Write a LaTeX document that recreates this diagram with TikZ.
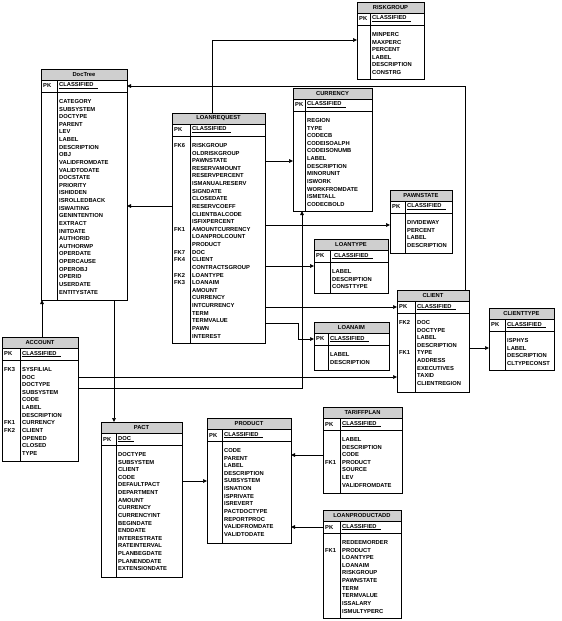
\documentclass[tikz,border=0pt]{standalone}
\usepackage{fontspec}
\setmainfont{Liberation Sans}
\usetikzlibrary{arrows.meta,positioning,calc}

\begin{document}
\begin{tikzpicture}[x=1pt, y=-1pt,
  head/.style={draw, line width=0.5pt, fill=gray!38, anchor=north west, outer sep=0pt, inner sep=0pt, minimum height=11pt, font=\fontsize{5.8}{7}\selectfont\bfseries},
  pkrow/.style={draw, line width=0.5pt, anchor=north west, outer sep=0pt, inner sep=0pt, minimum height=12pt},
  body/.style={draw, line width=0.5pt, anchor=north west, outer sep=0pt, inner sep=0pt},
  txt/.style={anchor=west, inner sep=0pt, font=\fontsize{5.8}{7}\selectfont\bfseries},
  sep/.style={line width=0.5pt},
  fk/.style={-{Triangle[length=4pt,width=3.6pt]}, line width=0.5pt}
]
\useasboundingbox (0,0) rectangle (562,621);

% RISKGROUP
\node[head, minimum width=67pt] (rg) at (357,2) {RISKGROUP};
\node[pkrow, minimum width=67pt] (rgpk) at (rg.south west) {};
\node[body, minimum width=67pt, minimum height=54pt] (rgb) at (rgpk.south west) {};
\draw[sep] ([xshift=13]rgpk.north west) -- ([xshift=13]rgb.south west);
\node[txt] (rgpkl) at ([xshift=2]rgpk.west) {PK};
\node[txt] (rgpkn) at ([xshift=15]rgpk.west) {\underline{CLASSIFIED\hspace{4pt}}};
\foreach \a [count=\i from 0] in {MINPERC,MAXPERC,PERCENT,LABEL,DESCRIPTION,CONSTRG}
  \node[txt] (rga\i) at ([xshift=15, yshift=-9.5-7.62*\i]rgb.north west) {\a};

% DocTree
\node[head, minimum width=86pt] (doc) at (41,69) {DocTree};
\node[pkrow, minimum width=86pt] (docpk) at (doc.south west) {};
\node[body, minimum width=86pt, minimum height=208pt] (docb) at (docpk.south west) {};
\draw[sep] ([xshift=16]docpk.north west) -- ([xshift=16]docb.south west);
\node[txt] (docpkl) at ([xshift=2]docpk.west) {PK};
\node[txt] (docpkn) at ([xshift=18]docpk.west) {\underline{CLASSIFIED\hspace{4pt}}};
\foreach \a [count=\i from 0] in {CATEGORY,SUBSYSTEM,DOCTYPE,PARENT,LEV,LABEL,DESCRIPTION,OBJ,VALIDFROMDATE,VALIDTODATE,DOCSTATE,PRIORITY,ISHIDDEN,ISROLLEDBACK,ISWAITING,GENINTENTION,EXTRACT,INITDATE,AUTHORID,AUTHORWP,OPERDATE,OPERCAUSE,OPEROBJ,OPERID,USERDATE,ENTITYSTATE}
  \node[txt] (doca\i) at ([xshift=18, yshift=-9.5-7.62*\i]docb.north west) {\a};

% LOANREQUEST
\node[head, minimum width=93pt] (lreq) at (172,113) {LOANREQUEST};
\node[pkrow, minimum width=93pt] (lreqpk) at (lreq.south west) {};
\node[body, minimum width=93pt, minimum height=207pt] (lreqb) at (lreqpk.south west) {};
\draw[sep] ([xshift=18]lreqpk.north west) -- ([xshift=18]lreqb.south west);
\node[txt] (lreqpkl) at ([xshift=2]lreqpk.west) {PK};
\node[txt] (lreqpkn) at ([xshift=20]lreqpk.west) {\underline{CLASSIFIED\hspace{4pt}}};
\foreach \a [count=\i from 0] in {RISKGROUP,OLDRISKGROUP,PAWNSTATE,RESERVAMOUNT,RESERVPERCENT,ISMANUALRESERV,SIGNDATE,CLOSEDATE,RESERVCOEFF,CLIENTBALCODE,ISFIXPERCENT,AMOUNTCURRENCY,LOANPROLCOUNT,PRODUCT,DOC,CLIENT,CONTRACTSGROUP,LOANTYPE,LOANAIM,AMOUNT,CURRENCY,INTCURRENCY,TERM,TERMVALUE,PAWN,INTEREST}
  \node[txt] (lreqa\i) at ([xshift=20, yshift=-9.5-7.62*\i]lreqb.north west) {\a};
\foreach \k/\i in {FK6/0,FK1/11,FK7/14,FK4/15,FK2/17,FK3/18}
  \node[txt] (lreqk\i) at ([xshift=2]lreqb.west |- lreqa\i.west) {\k};

% CURRENCY
\node[head, minimum width=79pt] (cur) at (293,88) {CURRENCY};
\node[pkrow, minimum width=79pt] (curpk) at (cur.south west) {};
\node[body, minimum width=79pt, minimum height=100pt] (curb) at (curpk.south west) {};
\draw[sep] ([xshift=12]curpk.north west) -- ([xshift=12]curb.south west);
\node[txt] (curpkl) at ([xshift=2]curpk.west) {PK};
\node[txt] (curpkn) at ([xshift=14]curpk.west) {\underline{CLASSIFIED\hspace{4pt}}};
\foreach \a [count=\i from 0] in {REGION,TYPE,CODECB,CODEISOALPH,CODEISONUMB,LABEL,DESCRIPTION,MINORUNIT,ISWORK,WORKFROMDATE,ISMETALL,CODECBOLD}
  \node[txt] (cura\i) at ([xshift=14, yshift=-9.5-7.62*\i]curb.north west) {\a};

% PAWNSTATE
\node[head, minimum width=62pt] (pawn) at (390,190) {PAWNSTATE};
\node[pkrow, minimum width=62pt] (pawnpk) at (pawn.south west) {};
\node[body, minimum width=62pt, minimum height=40pt] (pawnb) at (pawnpk.south west) {};
\draw[sep] ([xshift=15]pawnpk.north west) -- ([xshift=15]pawnb.south west);
\node[txt] (pawnpkl) at ([xshift=2]pawnpk.west) {PK};
\node[txt] (pawnpkn) at ([xshift=17]pawnpk.west) {\underline{CLASSIFIED\hspace{4pt}}};
\foreach \a [count=\i from 0] in {DIVIDEWAY,PERCENT,LABEL,DESCRIPTION}
  \node[txt] (pawna\i) at ([xshift=17, yshift=-9.5-7.62*\i]pawnb.north west) {\a};

% LOANTYPE
\node[head, minimum width=74pt] (ltype) at (314,239) {LOANTYPE};
\node[pkrow, minimum width=74pt] (ltypepk) at (ltype.south west) {};
\node[body, minimum width=74pt, minimum height=31pt] (ltypeb) at (ltypepk.south west) {};
\draw[sep] ([xshift=16]ltypepk.north west) -- ([xshift=16]ltypeb.south west);
\node[txt] (ltypepkl) at ([xshift=2]ltypepk.west) {PK};
\node[txt] (ltypepkn) at ([xshift=18]ltypepk.west) {\underline{\hspace{2pt}CLASSIFIED\hspace{4pt}}};
\foreach \a [count=\i from 0] in {LABEL,DESCRIPTION,CONSTTYPE}
  \node[txt] (ltypea\i) at ([xshift=18, yshift=-9.5-7.62*\i]ltypeb.north west) {\a};

% LOANAIM
\node[head, minimum width=75pt] (laim) at (314,322) {LOANAIM};
\node[pkrow, minimum width=75pt] (laimpk) at (laim.south west) {};
\node[body, minimum width=75pt, minimum height=25pt] (laimb) at (laimpk.south west) {};
\draw[sep] ([xshift=14]laimpk.north west) -- ([xshift=14]laimb.south west);
\node[txt] (laimpkl) at ([xshift=2]laimpk.west) {PK};
\node[txt] (laimpkn) at ([xshift=16]laimpk.west) {\underline{CLASSIFIED\hspace{4pt}}};
\foreach \a [count=\i from 0] in {LABEL,DESCRIPTION}
  \node[txt] (laima\i) at ([xshift=16, yshift=-9.5-7.62*\i]laimb.north west) {\a};

% CLIENT
\node[head, minimum width=72pt] (cli) at (397,290) {CLIENT};
\node[pkrow, minimum width=72pt] (clipk) at (cli.south west) {};
\node[body, minimum width=72pt, minimum height=79pt] (clib) at (clipk.south west) {};
\draw[sep] ([xshift=18]clipk.north west) -- ([xshift=18]clib.south west);
\node[txt] (clipkl) at ([xshift=2]clipk.west) {PK};
\node[txt] (clipkn) at ([xshift=20]clipk.west) {\underline{CLASSIFIED\hspace{4pt}}};
\foreach \a [count=\i from 0] in {DOC,DOCTYPE,LABEL,DESCRIPTION,TYPE,ADDRESS,EXECUTIVES,TAXID,CLIENTREGION}
  \node[txt] (clia\i) at ([xshift=20, yshift=-9.5-7.62*\i]clib.north west) {\a};
\foreach \k/\i in {FK2/0,FK1/4}
  \node[txt] (clik\i) at ([xshift=2]clib.west |- clia\i.west) {\k};

% CLIENTTYPE
\node[head, minimum width=65pt] (ctype) at (489,308) {CLIENTTYPE};
\node[pkrow, minimum width=65pt] (ctypepk) at (ctype.south west) {};
\node[body, minimum width=65pt, minimum height=39pt] (ctypeb) at (ctypepk.south west) {};
\draw[sep] ([xshift=16]ctypepk.north west) -- ([xshift=16]ctypeb.south west);
\node[txt] (ctypepkl) at ([xshift=2]ctypepk.west) {PK};
\node[txt] (ctypepkn) at ([xshift=18]ctypepk.west) {\underline{CLASSIFIED\hspace{4pt}}};
\foreach \a [count=\i from 0] in {ISPHYS,LABEL,DESCRIPTION,CLTYPECONST}
  \node[txt] (ctypea\i) at ([xshift=18, yshift=-9.5-7.62*\i]ctypeb.north west) {\a};

% ACCOUNT
\node[head, minimum width=76pt] (acc) at (2,337) {ACCOUNT};
\node[pkrow, minimum width=76pt] (accpk) at (acc.south west) {};
\node[body, minimum width=76pt, minimum height=101pt] (accb) at (accpk.south west) {};
\draw[sep] ([xshift=18]accpk.north west) -- ([xshift=18]accb.south west);
\node[txt] (accpkl) at ([xshift=2]accpk.west) {PK};
\node[txt] (accpkn) at ([xshift=20]accpk.west) {\underline{CLASSIFIED\hspace{4pt}}};
\foreach \a [count=\i from 0] in {SYSFILIAL,DOC,DOCTYPE,SUBSYSTEM,CODE,LABEL,DESCRIPTION,CURRENCY,CLIENT,OPENED,CLOSED,TYPE}
  \node[txt] (acca\i) at ([xshift=20, yshift=-9.5-7.62*\i]accb.north west) {\a};
\foreach \k/\i in {FK3/0,FK1/7,FK2/8}
  \node[txt] (acck\i) at ([xshift=2]accb.west |- acca\i.west) {\k};

% PACT
\node[head, minimum width=81pt] (pact) at (101,422) {PACT};
\node[pkrow, minimum width=81pt] (pactpk) at (pact.south west) {};
\node[body, minimum width=81pt, minimum height=132pt] (pactb) at (pactpk.south west) {};
\draw[sep] ([xshift=15]pactpk.north west) -- ([xshift=15]pactb.south west);
\node[txt] (pactpkl) at ([xshift=2]pactpk.west) {PK};
\node[txt] (pactpkn) at ([xshift=17]pactpk.west) {\underline{DOC\hspace{3pt}}};
\foreach \a [count=\i from 0] in {DOCTYPE,SUBSYSTEM,CLIENT,CODE,DEFAULTPACT,DEPARTMENT,AMOUNT,CURRENCY,CURRENCYINT,BEGINDATE,ENDDATE,INTERESTRATE,RATEINTERVAL,PLANBEGDATE,PLANENDDATE,EXTENSIONDATE}
  \node[txt] (pacta\i) at ([xshift=17, yshift=-9.5-7.62*\i]pactb.north west) {\a};

% PRODUCT
\node[head, minimum width=84pt] (prod) at (207,418) {PRODUCT};
\node[pkrow, minimum width=84pt] (prodpk) at (prod.south west) {};
\node[body, minimum width=84pt, minimum height=102pt] (prodb) at (prodpk.south west) {};
\draw[sep] ([xshift=15]prodpk.north west) -- ([xshift=15]prodb.south west);
\node[txt] (prodpkl) at ([xshift=2]prodpk.west) {PK};
\node[txt] (prodpkn) at ([xshift=17]prodpk.west) {\underline{CLASSIFIED\hspace{4pt}}};
\foreach \a [count=\i from 0] in {CODE,PARENT,LABEL,DESCRIPTION,SUBSYSTEM,ISNATION,ISPRIVATE,ISREVERT,PACTDOCTYPE,REPORTPROC,VALIDFROMDATE,VALIDTODATE}
  \node[txt] (proda\i) at ([xshift=17, yshift=-9.5-7.62*\i]prodb.north west) {\a};

% TARIFFPLAN
\node[head, minimum width=79pt] (tp) at (323,407) {TARIFFPLAN};
\node[pkrow, minimum width=79pt] (tppk) at (tp.south west) {};
\node[body, minimum width=79pt, minimum height=63pt] (tpb) at (tppk.south west) {};
\draw[sep] ([xshift=17]tppk.north west) -- ([xshift=17]tpb.south west);
\node[txt] (tppkl) at ([xshift=2]tppk.west) {PK};
\node[txt] (tppkn) at ([xshift=19]tppk.west) {\underline{CLASSIFIED\hspace{4pt}}};
\foreach \a [count=\i from 0] in {LABEL,DESCRIPTION,CODE,PRODUCT,SOURCE,LEV,VALIDFROMDATE}
  \node[txt] (tpa\i) at ([xshift=19, yshift=-9.5-7.62*\i]tpb.north west) {\a};
\node[txt] (tpk3) at ([xshift=2]tpb.west |- tpa3.west) {FK1};

% LOANPRODUCTADD
\node[head, minimum width=78pt] (lpa) at (323,510) {LOANPRODUCTADD};
\node[pkrow, minimum width=78pt] (lpapk) at (lpa.south west) {};
\node[body, minimum width=78pt, minimum height=85pt] (lpab) at (lpapk.south west) {};
\draw[sep] ([xshift=17]lpapk.north west) -- ([xshift=17]lpab.south west);
\node[txt] (lpapkl) at ([xshift=2]lpapk.west) {PK};
\node[txt] (lpapkn) at ([xshift=19]lpapk.west) {\underline{CLASSIFIED\hspace{4pt}}};
\foreach \a [count=\i from 0] in {REDEEMORDER,PRODUCT,LOANTYPE,LOANAIM,RISKGROUP,PAWNSTATE,TERM,TERMVALUE,ISSALARY,ISMULTYPERC}
  \node[txt] (lpaa\i) at ([xshift=19, yshift=-9.5-7.62*\i]lpab.north west) {\a};
\node[txt] (lpak1) at ([xshift=2]lpab.west |- lpaa1.west) {FK1};

% connectors
\draw[fk] ([xshift=40]lreq.north west) |- ([yshift=-15]rgb.north west);
\draw[fk] ([xshift=-4]cli.north east) |- (docpk.east);
\draw[fk] ([yshift=-70]lreqb.north west) -- ([yshift=-70]lreqb.north west -| docb.east);
\draw[fk] (curb.west -| lreqb.east) -- (curb.west);
\draw[fk] ([yshift=-12]pawnb.north west -| lreqb.east) -- ([yshift=-12]pawnb.north west);
\draw[fk] ([yshift=-4]ltypeb.north west -| lreqb.east) -- ([yshift=-4]ltypeb.north west);
\draw[fk] (clipk.west -| lreqb.east) -- (clipk.west);
\draw[fk] ([yshift=20]lreqb.south east) -- ++(33,0) |- (laimpk.west);
\draw[fk] ([xshift=40]acc.north west) -- ([xshift=40]acc.north west |- docb.south);
\draw[fk] ([xshift=73]docb.south west) -- ([xshift=73]docb.south west |- pact.north);
\draw[fk] ([yshift=-17]accb.north east) -- ([yshift=-17]accb.north east -| clib.west);
\draw[fk] ([yshift=-28]accb.north east) -| ([xshift=9]curb.south west);
\draw[fk] ([yshift=-36]pactb.north east) -- ([yshift=-36]pactb.north east -| prodb.west);
\draw[fk] ([yshift=-25]tpb.north west) -- ([yshift=-25]tpb.north west -| prodb.east);
\draw[fk] (lpapk.west) -- (lpapk.west -| prodb.east);
\draw[fk] ([yshift=-35]clib.north east) -- ([yshift=-35]clib.north east -| ctypeb.west);
\end{tikzpicture}
\end{document}
